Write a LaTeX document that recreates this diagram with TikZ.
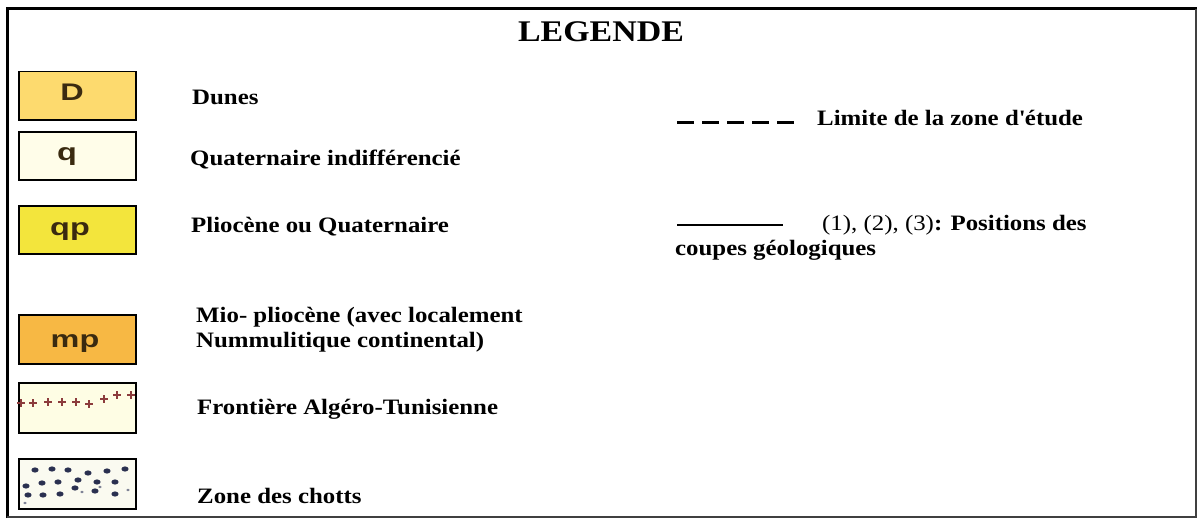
\documentclass[tikz,border=0pt]{standalone}
\usepackage{fontspec}
\setmainfont{Liberation Serif}[FakeStretch=1.13]
\newfontfamily\boxfont{Liberation Sans}[FakeStretch=1.35]
\usetikzlibrary{calc}
\definecolor{dunecol}{HTML}{FDDA6E}
\definecolor{qcol}{HTML}{FFFDE9}
\definecolor{qpcol}{HTML}{F3E53C}
\definecolor{mpcol}{HTML}{F7B844}
\definecolor{frcol}{HTML}{FEFDE4}
\definecolor{chcol}{HTML}{FAFAF0}
\definecolor{crosscol}{HTML}{8C3C3C}
\definecolor{dotcol}{HTML}{2A3050}
\definecolor{boxtext}{HTML}{3A2A10}
\tikzset{
  legbox/.style={draw=black, line width=1.5pt, minimum width=117pt, minimum height=48pt, inner sep=0pt, anchor=north west},
  boxlab/.style={font=\boxfont\bfseries\fontsize{24}{24}\selectfont, text=boxtext, inner sep=0pt},
  lab/.style={anchor=base west, inner sep=0pt, font=\bfseries\fontsize{22}{22}\selectfont},
  crossmark/.style={draw=crosscol, line width=1.6pt},
}
\begin{document}
\begin{tikzpicture}[x=1pt,y=-1pt]
\useasboundingbox (0,0) rectangle (1197,519);
% frame
\coordinate (tl) at (7,9);
\coordinate (tr) at (1195.5,9);
\coordinate (br) at (1195.5,517);
\coordinate (bl) at (7,517);
\draw[line width=3pt] ($(bl)+(0,1)$) -- (tl) -- ($(tr)+(1,0)$);
\draw[line width=2pt, draw=black!75] (tr) -- (br) -- (bl);
% title
\node[anchor=base, inner sep=0pt, font=\bfseries\fontsize{30}{30}\selectfont] (title) at (601,42) {LEGENDE};
% boxes
\node[legbox, fill=dunecol] (bD) at (18,71) {};
\node[boxlab, anchor=base] (lD) at (72,100) {D};
\node[legbox, fill=qcol] (bq) at (18,131) {};
\node[boxlab, anchor=base] (lq) at (67,160) {q};
\node[legbox, fill=qpcol] (bqp) at (18,205) {};
\node[boxlab, anchor=base] (lqp) at (70,235) {qp};
\node[legbox, fill=mpcol, minimum height=49pt] (bmp) at (18,314) {};
\node[boxlab, anchor=base] (lmp) at (75,347) {mp};
\node[legbox, fill=frcol, minimum height=50pt] (bfr) at (18,382) {};
\node[legbox, fill=chcol, minimum height=50pt] (bch) at (18,458) {};
% crosses
\foreach \cx/\cy in {21/403,33/403,48/402,62/402,76/402,89/404,104/399,117/395,131/395}{
  \draw[crossmark] (\cx-4,\cy) -- (\cx+4,\cy) (\cx,\cy-4) -- (\cx,\cy+4);
}
% chott dots
\foreach \dx/\dy in {35/470,52/469,68/470,88/473,107/471,125/469,
                     42/483,58/482,78/480,97/482,115/482,
                     28/495,43/495,60/494,75/488,95/491,115/494,26/486}{
  \fill[dotcol] (\dx,\dy) ellipse (3.6pt and 2.6pt);
}
\foreach \dx/\dy in {82/492,100/487,128/490,25/503}{
  \fill[dotcol!60] (\dx,\dy) ellipse (1.8pt and 1.3pt);
}
% labels
\node[lab] (tD) at (192,104) {Dunes};
\node[lab] (tq) at (190,165) {Quaternaire indifférencié};
\node[lab] (tqp) at (191,232) {Pliocène ou Quaternaire};
\node[lab] (tmp1) at (196,322) {Mio- pliocène (avec localement};
\node[lab] (tmp2) at (196,347) {Nummulitique continental)};
\node[lab] (tfr) at (197,414) {Frontière Algéro-Tunisienne};
\node[lab] (tch) at (197,503) {Zone des chotts};
% right column
\coordinate (d1) at (677,122);
\coordinate (d2) at (797,122);
\draw[line width=3pt, dash pattern=on 17pt off 8pt] (d1) -- (d2);
\node[lab] (tlim) at (817,125) {Limite de la zone d\textquotesingle étude};
\coordinate (s1) at (677,225);
\coordinate (s2) at (783,225);
\draw[line width=1.2pt] (s1) -- (s2);
\node[lab] (tpos) at (822,230) {\mdseries (1), (2), (3)\bfseries: Positions des};
\node[lab] (tcoupe) at (675,255) {coupes géologiques};
\end{tikzpicture}
\end{document}
